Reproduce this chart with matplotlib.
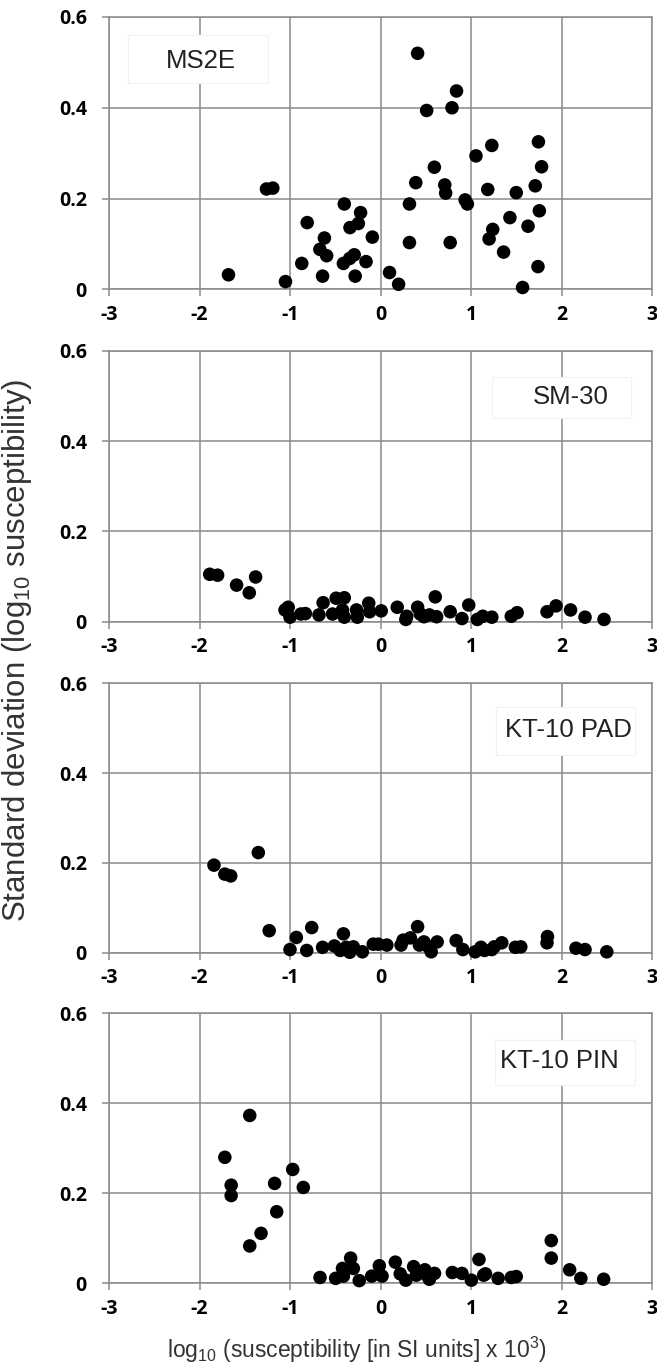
import numpy as np
import matplotlib
matplotlib.use("Agg")
import matplotlib.pyplot as plt
import matplotlib.patches as patches

plt.rcParams["axes.unicode_minus"] = False
plt.rcParams["mathtext.fontset"] = "custom"
plt.rcParams["mathtext.rm"] = "Liberation Sans"
plt.rcParams["mathtext.it"] = "Liberation Sans:italic"

# instrument labels
instruments = ["MS2E", "SM-30", "KT-10 PAD", "KT-10 PIN"]

# MS2E
ms2e_x = [-1.68, -1.26, -1.19, -1.05, -0.87, -0.81, -0.62, -0.67, -0.595, -0.64,
          -0.40, -0.337, -0.41, -0.34, -0.29, -0.28, -0.22, -0.245, -0.09, -0.16,
          0.10, 0.20, 0.32, 0.32, 0.39, 0.41, 0.51, 0.595, 0.71, 0.72,
          0.77, 0.79, 0.84, 0.935, 0.96, 1.055, 1.23, 1.185, 1.24, 1.20,
          1.36, 1.43, 1.50, 1.57, 1.63, 1.71, 1.745, 1.78, 1.755, 1.74]
ms2e_y = [0.032, 0.221, 0.223, 0.017, 0.057, 0.147, 0.113, 0.088, 0.074, 0.029,
          0.188, 0.136, 0.057, 0.068, 0.076, 0.029, 0.169, 0.145, 0.115, 0.061,
          0.037, 0.011, 0.188, 0.103, 0.235, 0.520, 0.394, 0.269, 0.230, 0.212,
          0.103, 0.400, 0.437, 0.197, 0.188, 0.294, 0.317, 0.220, 0.132, 0.111,
          0.082, 0.158, 0.213, 0.004, 0.139, 0.228, 0.325, 0.270, 0.173, 0.050]

# SM-30
sm30_x = [-1.887, -1.80, -1.59, -1.45, -1.38, -1.055, -1.02, -1.0, -0.88, -0.83,
          -0.68, -0.634, -0.53, -0.49, -0.40, -0.42, -0.40, -0.265, -0.256, -0.13,
          -0.12, 0.008, 0.185, 0.28, 0.29, 0.41, 0.44, 0.48, 0.54, 0.605,
          0.62, 0.77, 0.90, 0.975, 1.07, 1.13, 1.23, 1.445, 1.51, 1.84,
          1.94, 2.10, 2.26, 2.47]
sm30_y = [0.105, 0.103, 0.081, 0.064, 0.099, 0.026, 0.032, 0.010, 0.017, 0.018,
          0.015, 0.042, 0.017, 0.052, 0.053, 0.026, 0.010, 0.026, 0.010, 0.041,
          0.022, 0.024, 0.032, 0.005, 0.012, 0.032, 0.017, 0.011, 0.015, 0.055,
          0.011, 0.022, 0.007, 0.037, 0.005, 0.012, 0.010, 0.012, 0.020, 0.022,
          0.035, 0.026, 0.010, 0.005]

# KT-10 PAD
pad_x = [-1.84, -1.72, -1.655, -1.35, -1.23, -1.0, -0.93, -0.815, -0.76, -0.64,
         -0.51, -0.445, -0.41, -0.38, -0.34, -0.30, -0.20, -0.08, -0.025, 0.07,
         0.227, 0.25, 0.33, 0.41, 0.43, 0.48, 0.53, 0.56, 0.626, 0.836,
         0.91, 1.046, 1.11, 1.15, 1.23, 1.256, 1.34, 1.49, 1.55, 1.845,
         1.84, 2.16, 2.26, 2.50]
pad_y = [0.195, 0.175, 0.171, 0.223, 0.049, 0.007, 0.034, 0.005, 0.056, 0.012,
         0.015, 0.005, 0.042, 0.012, 0.001, 0.013, 0.002, 0.019, 0.019, 0.017,
         0.017, 0.028, 0.033, 0.058, 0.017, 0.024, 0.013, 0.002, 0.024, 0.027,
         0.007, 0.002, 0.012, 0.005, 0.007, 0.013, 0.022, 0.012, 0.013, 0.036,
         0.022, 0.010, 0.007, 0.002]

# KT-10 PIN
pin_x = [-1.72, -1.65, -1.65, -1.445, -1.445, -1.32, -1.17, -1.147, -0.97, -0.853,
         -0.668, -0.496, -0.41, -0.42, -0.33, -0.30, -0.235, -0.097, -0.013, 0.017,
         0.164, 0.218, 0.28, 0.366, 0.395, 0.49, 0.52, 0.54, 0.597, 0.794,
         0.90, 1.004, 1.088, 1.14, 1.16, 1.30, 1.445, 1.50, 1.887, 1.887,
         2.09, 2.214, 2.466]
pin_y = [0.280, 0.218, 0.195, 0.373, 0.083, 0.111, 0.222, 0.159, 0.253, 0.213,
         0.013, 0.011, 0.016, 0.033, 0.056, 0.033, 0.006, 0.016, 0.039, 0.016,
         0.047, 0.021, 0.007, 0.037, 0.018, 0.030, 0.016, 0.009, 0.022, 0.024,
         0.022, 0.007, 0.053, 0.018, 0.021, 0.011, 0.013, 0.015, 0.095, 0.056,
         0.030, 0.011, 0.009]

xs = [ms2e_x, sm30_x, pad_x, pin_x]
ys = [ms2e_y, sm30_y, pad_y, pin_y]

x_ticks = [-3, -2, -1, 0, 1, 2, 3]
y_ticks = [0, 0.2, 0.4, 0.6]
y_ticklabels = ["0", "0.2", "0.4", "0.6"]

# label box (x0, x1, y0, y1) and text centre, in data units
boxes = [(-2.79, -1.24, 0.455, 0.56, -1.99, 0.502),
         (1.235, 2.77, 0.45, 0.542, 2.10, 0.498),
         (1.28, 2.81, 0.44, 0.548, 2.076, 0.496),
         (1.26, 2.81, 0.44, 0.54, 1.98, 0.493)]

GRID = "#8a8a8a"
TICKFONT = dict(family="Open Sans", weight="bold", size=14)
LEFT, WIDTH = 109 / 657, 543 / 657
# (top px, bottom px) of each panel
panel_px = [(17, 289.3), (350.7, 621.7), (683.3, 952.7), (1013.3, 1283.3)]

fig = plt.figure(figsize=(6.57, 13.7), dpi=100)

for i in range(4):
    top, bot = panel_px[i]
    ax = fig.add_axes([LEFT, (1370 - bot) / 1370, WIDTH, (bot - top) / 1370])
    ax.set_xlim(-3, 3)
    ax.set_ylim(0, 0.6)
    ax.set_xticks(x_ticks)
    ax.set_xticklabels([str(t) for t in x_ticks], fontdict=TICKFONT)
    ax.set_yticks(y_ticks)
    ax.set_yticklabels(y_ticklabels, fontdict=TICKFONT)
    ax.grid(True, color=GRID, linewidth=1.1)
    ax.set_axisbelow(True)
    for sp in ax.spines.values():
        sp.set_color(GRID)
        sp.set_linewidth(1.1)
    ax.tick_params(direction="out", length=5, width=1.1, color=GRID, pad=6)
    ax.tick_params(axis="y", pad=11)

    ax.scatter(xs[i], ys[i], s=95, color="black", edgecolors="none", zorder=4, clip_on=False)

    x0, x1, y0, y1, tx, ty = boxes[i]
    ax.add_patch(patches.Rectangle((x0, y0), x1 - x0, y1 - y0, facecolor="white",
                                   edgecolor="#f2f2f2", linewidth=0.8, zorder=2))
    ax.text(tx, ty, instruments[i], ha="center", va="center", fontsize=18.5,
            family="Liberation Sans", color="#222222", zorder=3)

fig.text(0.026, 0.525, r"Standard deviation (log$_{10}$ susceptibility)", rotation=90,
         ha="center", va="center", fontsize=22.5, family="Liberation Sans", color="#333333")
fig.text(0.543, 1 - 1350 / 1370, r"log$_{10}$ (susceptibility [in SI units] x 10$^{3}$)",
         ha="center", va="center", fontsize=16.5, family="Liberation Sans", color="#333333")

fig.savefig("out.png", dpi=100)
plt.close(fig)
